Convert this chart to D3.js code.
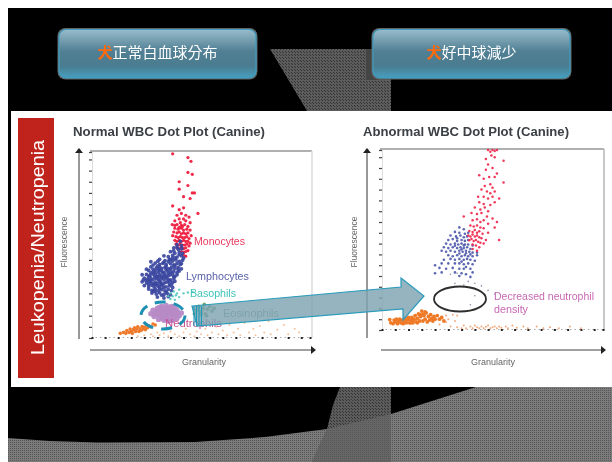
<!DOCTYPE html>
<html><head><meta charset="utf-8">
<script src="https://cdn.jsdelivr.net/npm/d3@7/dist/d3.min.js"></script>
<style>html,body{margin:0;padding:0;background:#fff}svg{display:block}</style></head>
<body><svg id="c" width="612" height="462"></svg>
<script>
const buttonLabels=[["犬","正常白血球分布"],["犬","好中球減少"]];
const sideLabel="Leukopenia/Neutropenia";
const titles=["Normal WBC Dot Plot (Canine)","Abnormal WBC Dot Plot (Canine)"];
const axisLabels=["Granularity","Fluorescence"];
const tickValues=[0,6,12,18,24,30,36,42,48,54,60,66,72,78,84,90,96,100];

const monoL=[[37,99],[44,97],[45.4,95],[44,89],[46,88],[40,84],[40,80],[44,82],[46,78],[47,78],[42,76],[45,75],[37,71],[40,69],[42,70],[48.6,67],
[39,66],[41,67],[43,66],[40,64],[42,64],[44.5,65],[38,63],[40.5,62],[43,63],[45,62],[39,61],[41,60.5],[42.5,61],[44,60],[38,59],[39.5,58.5],[41,59],[42,58],[43.5,58.5],[45,58],[37.5,57],[39,56.5],[40,57],[41,56],[42,56.5],[43,56],[44,56.5],[45.5,55],[37,55],[38.5,54.5],[39.5,54],[40.5,54.5],[41.5,54],[42.5,54],[43.5,54.5],[44.5,53.5],[38,52.5],[39,52],[40,52.5],[41,52],[42,52.5],[43,52],[44,52],[45,51],[38.5,50.5],[39.5,50],[40.5,50.5],[41.5,50],[42.5,50],[43.5,50.5],[44.5,49.5],[39,48.5],[40,48],[41,48.5],[42,48],[43,48.5],[41,46.5],[42,46],[43,46.5],[44,47],[42,44.5],[43,44],[41.5,60],[40,59.5],[38,60.5],[36.8,61]];
const lymphL=[[40.5,52],[39,50.2],[41,49.6],[37.5,48.4],[39.6,47.7],[41.2,48],[36,46.4],[38,45.6],[40,46.2],[41.5,45.5],[33,44.2],[35,43.7],[37,44.4],[39,43.5],[41,44.2],[42,43],
[31,42.3],[33.5,41.6],[35.5,42.2],[37,41.4],[38.5,42],[40,41.2],[41.5,41.8],[29,40.3],[31,39.6],[32.5,40.2],[34,39.4],[36,40],[37.5,39.3],[39,40.1],[40.5,39.5],
[27,38.2],[29.5,37.6],[31,38.3],[32,37.4],[33.5,38],[35,37.3],[36.5,38.1],[38,37.5],[39.5,38],[41,37.2],[26,36.3],[28,35.6],[29,36.2],[30.5,35.4],[32,36],[33,35.3],[34.5,36.1],[36,35.5],[37.5,36],[39,35.2],[40,36],
[25,34.2],[26.5,33.6],[28,34.3],[29.5,33.4],[31,34],[32,33.3],[33.5,34.1],[35,33.5],[36,34],[37.5,33.2],[39,34],[24,32.2],[25.5,31.6],[27,32.3],[28,31.4],[29.5,32],[30.5,31.3],[32,32.1],[33,31.5],[34.5,32],[36,31.2],[37.5,32],
[23,30.2],[25,29.6],[26.5,30.3],[27.5,29.4],[29,30],[30,29.3],[31.5,30.1],[33,29.5],[34,30],[35.5,29.2],[37,30],[24,28.2],[26,27.6],[27.5,28.3],[28.5,27.4],[30,28],[31,27.3],[32.5,28.1],[34,27.5],[35.5,28],[37,27.2],
[26,26.3],[27.5,25.6],[29,26.2],[30.5,25.4],[32,26],[33.5,25.3],[35,26.1],[36.5,25.5],[27.5,24.2],[29.5,23.6],[31,24.3],[33,23.4],[34.5,24],[36,23.3],[30,22],[33,21.5],[35,22.2],[23,34],[27,41],[25,37],
[30.5,37],[32.5,35],[30,33],[33,33],[35.5,31],[31,30.7],[28.5,29],[33,27],[29,34.8],[34,38.7],[36.8,42.8],[35,35],[31.5,28.8],[27,30.8],[38,33],[36,37],
[28,39.2],[30,38.6],[33,40.8],[35,41],[38,43],[40,44.8],[37.5,46.8],[39,48.8],[31,36.5],[34,36.9],[37,34.7],[27,35],[26,32.9],[28.8,32.8],[31,32.7],[34,32.8],[26,31],[23.5,31.2],[26,28.9],[29,28.8],[32,29],[35,30.6],[36.5,28.7],[38,30.5],[28,25.2],[31,26.8],[34,24.8],[36,42],[38,39],[41,40],[39.5,36.8],[28,37],[24.8,30.9],[32,23],[29,25],[30.2,41.3]];
const basoL=[[36,24],[37.5,25],[39,24],[40,26],[37,22.5],[38.5,23],[40,22],[36,21],[38,20.5],[35,22.5],[42,24],[44,24.5],[46,24.8]];
const neutL=[[27,13],[28,15],[28.5,11.5],[29.5,14],[30,16],[30,12.5],[30.5,10],[31,14.5],[31.5,12],[32,17],[32,15],[32.5,13],[32.5,10.5],[33,16],[33,9.5],[33.5,14],[34,12],[34,17.5],[34.5,15.5],[34.5,10],[35,13.5],[35.5,16.5],[35.5,11.5],[36,14.5],[36,9.5],[36.5,17],[37,12.5],[37,15.5],[37.5,10.5],[38,14],[38,16.5],[38.5,12],[39,15],[39,10.5],[39.5,13.5],[40,12],[29,13],[31,16.5],[33.5,11],[35,9],[37,9.5],[36.5,13],[34,14],[32,11.5],[30.5,14.8],[41,13.5]];
const orangeL=[[13,2.5],[14.5,3],[15.5,2.5],[16,4],[17,3],[17.5,4.8],[18,3.5],[18.5,2.5],[19,4.5],[19.5,5.5],[20,3.5],[20.5,4.8],[21,6],[21.5,3.5],[22,5],[22.5,4],[23,6.2],[23.5,4.8],[24,5.8],[24.5,4.5],[25,7],[25.5,5.5],[26,6.5],[27,6],[28,7.5],[29,7]];
const scatterL=[[21,1],[24,1.5],[27,2],[28,1],[30,3],[31,1.5],[33,2.5],[35,1],[36,3.5],[38,2],[40,1],[42,3],[43,5],[45,2],[47,1],[48,3.5],[50,2],[52,5],[53,1.5],[55,3],[57,6],[58,2],[60,4],[62,1.5],[63,7],[65,3],[67,5],[68,1.5],[70,8],[72,3],[74,5],[75,1.5],[77,6.5],[79,3],[81,9],[82,2],[85,4.5],[88,7],[90,2],[93,5],[95,3]];
const eosL=[[47,13],[48,15],[49,17],[50,14],[51,16],[51.5,18],[52,13],[53,15.5],[54,17],[55,14.5],[52.5,12],[50,12.5],[56,16]];

const monoR=[[48,100],[49,99],[50,100],[51,99.5],[52,100],[49.5,97],[47,95],[51,96],[55,94],[50,90],[47,89],[48,92],[52,87],[44,86],[46,84],[48.5,85],[51,85],[55,82],[49,81],[46.5,80],[50,79],[45,78],[47.5,77],[49,76],[51,77],[43.5,74],[46,74],[48,73],[50,74],[53,73],[44,71],[46,70],[49,69.5],[51,71],[42,68],[44.5,67],[46.5,68],[48,66],[40.5,65],[43,64.5],[45,65],[47.5,63],[50,62],[41,61],[43,61.5],[44.5,60],[46,61],[48,59],[40,58],[41.5,57.5],[43,58],[44.5,57],[46,56.5],[51,57],[39.5,55],[41,54.5],[42,55.5],[43,54],[44,54.8],[45.5,53.5],[48,54],[39,52.5],[40,52],[41,53],[42,52],[43,52.5],[44,51.5],[45,51],[47,50],[39.5,49.8],[40.5,50.5],[41.5,49.5],[42.5,50],[43.5,49],[44.5,48.5],[46,48],[41,47.5],[42.5,47],[44,46],[41,45],[43,44],[53,50],[52,60],[37,63]];
const lymphR=[[35,57],[37,56],[33,54.5],[35,54],[37.5,53.5],[39,54],[31,52.5],[33.5,52],[35.5,52.5],[37,51.5],[38.5,52],[30,50],[32,50.5],[34,49.5],[36,50],[37.5,49.5],[39,50],[29,48],[31,47.5],[33,48],[34.5,47.5],[36,48],[37.5,47.5],[39,47.5],[41,47],[28,46],[30,45.5],[32,46],[34,45.5],[35.5,46],[37,45.5],[38.5,46],[40,45],[27,44],[29,43.5],[31,44],[33,43.5],[35,44],[36.5,43.5],[38,44],[39.5,43.5],[41,43],[43,43],[30,41.5],[32,41],[34,41.5],[36,41],[37.5,41.5],[39,41],[41,41],[43,41.5],[28,39],[31,39.5],[33,39],[35,39.5],[37,39],[38.5,39.5],[40,39],[42,38.5],[24,36],[27,37],[30,37],[33,37],[35,37],[37,36.5],[39,37],[41,36.5],[26,34.5],[29,34],[32,34.5],[35,34],[37,34],[40,34],[24,31.5],[27,32],[33,32],[36,31.5],[38,31],[41,32],[35,30],[40,29.5],[33,46.8],[36,44.8],[38,42.6],[35,42.5],[37,47],[34,51],[40,42],[38,35],[36,38]];
const orangeR=[[5,3.5],[5.5,5.5],[6,4.5],[6.5,6],[7,3.5],[7.5,5],[8,6],[8.5,4],[9,5.5],[9.5,3.5],[10,5],[10.5,6.5],[11,4],[11.5,5.5],[12,7],[12.5,4],[13,5.5],[13.5,7],[14,4],[14.5,6],[15,8],[15.5,4.5],[16,6.5],[16.5,9],[17,5],[17.5,7.5],[18,10.5],[18.5,5],[19,8],[19.5,6],[20,9.5],[20.5,4.5],[21,7.5],[21.5,5.5],[22,8.5],[22.5,6.5],[23,5],[23.5,7.5],[24,6],[25,8],[26,6],[27,7],[28,5],[4,4],[3.5,5.8],[14,5],[17,8.5],[18.5,8.8],[19.5,10],[16,4],[13,4],[10,4]];
const scatterR=[[26,3],[29,4.5],[30,6],[31,2],[33,5],[34,1.5],[36,1],[37,2.5],[38,1],[40,2],[41,1],[42,2.5],[43,1.5],[44,1],[45,2],[46,1],[47,1.8],[48,2.5],[49,1],[50,1.5],[51,2],[52,1],[53,2],[54,1.2],[56,2],[57,1],[59,2.5],[61,1.2],[64,2],[66,1],[70,2],[73,1],[76,1.5],[80,1],[85,2],[90,1],[34,8],[32,8.5],[29,8]];
const strayR=[[31,31],[34,31.5],[39,27],[37,25],[42,26],[33,26],[45,24.5],[48,22],[42,19],[40,14],[51,20]];

const labelsL=[["Monocytes","#e9395c",194,245,51],["Lymphocytes","#5a63aa",186,280,63],["Basophils","#3cc4b6",190,297,46],["Neutrophils","#c94f8f",165,327,57],["Eosinophils","#7c9a78",223,317,56]];
const labelsR=[["Decreased neutrophil","#c868b4",494,300,100],["density","#c868b4",494,313,34]];

const svg=d3.select("#c");
const defs=svg.append("defs");
function pat(id,bg,fg,size,cells){
  const p=defs.append("pattern").attr("id",id).attr("patternUnits","userSpaceOnUse").attr("width",size).attr("height",size);
  p.append("rect").attr("width",size).attr("height",size).attr("fill",bg);
  cells.forEach(c=>p.append("rect").attr("x",c[0]).attr("y",c[1]).attr("width",c[2]).attr("height",c[3]).attr("fill",fg));
}
pat("pA","#7b7b7b","#555",4,[[0,0,1,1],[2,0,1,1],[0,2,1,1],[2,2,1,1]]);
pat("pB","#5c5c5c","#333",3,[[0,0,1,1],[1,1,1,1]]);
pat("pC","#666","#585858",2,[[0,0,1,1]]);
defs.append("filter").attr("id","soft").attr("x","-5%").attr("y","-5%").attr("width","110%").attr("height","110%")
  .append("feGaussianBlur").attr("stdDeviation",0.55);
defs.append("filter").attr("id","softer").attr("x","-5%").attr("y","-5%").attr("width","110%").attr("height","110%")
  .append("feGaussianBlur").attr("stdDeviation",0.3);
const g=defs.append("linearGradient").attr("id","btn").attr("x1",0).attr("x2",0).attr("y1",0).attr("y2",1);
[[0,"#98bccb"],[0.45,"#517f93"],[0.75,"#4b7c90"],[1,"#469fc0"]].forEach(s=>g.append("stop").attr("offset",s[0]).attr("stop-color",s[1]));

const line=d3.line();
const trap=[[270,49],[391,49],[391,462],[312,462],[327,429],[333,405],[340,387],[307,111]];
const low=[[8,438],[50,441],[98,442.5],[195,442],[265,437],[327,429],[391,414],[476,387],[612,387],[612,462],[8,462]];
defs.append("clipPath").attr("id","trapClip").append("path").attr("d",line(trap)+"Z");

svg.append("rect").attr("x",8).attr("y",8).attr("width",604).attr("height",454).attr("fill","#000");
svg.append("path").attr("d",line(low)+"Z").attr("fill","url(#pA)");
svg.append("path").attr("d",line(trap)+"Z").attr("fill","url(#pB)");
svg.append("path").attr("d",line(low)+"Z").attr("fill","url(#pC)").attr("clip-path","url(#trapClip)");
svg.append("rect").attr("x",366).attr("y",49).attr("width",25).attr("height",31).attr("fill","#444");

// buttons
const btnG=svg.append("g").attr("filter","url(#softer)");
[[59,197],[373,197]].forEach((b,i)=>{
  btnG.append("rect").attr("x",b[0]-1.5).attr("y",28).attr("width",b[1]+3).attr("height",51.5).attr("rx",8).attr("fill","#666");
  btnG.append("rect").attr("x",b[0]).attr("y",29.5).attr("width",b[1]).attr("height",48.5).attr("rx",7).attr("fill","url(#btn)").attr("stroke","#3a9dc2").attr("stroke-width",1.2);
  const t=btnG.append("text").attr("x",b[0]+b[1]/2).attr("y",58).attr("text-anchor","middle")
    .attr("font-family","'Noto Sans CJK TC'").attr("font-size",15).attr("fill","#fff");
  t.append("tspan").attr("fill","#ff6a0a").attr("font-weight","bold").text(buttonLabels[i][0]);
  t.append("tspan").text(buttonLabels[i][1]);
});

// white panel
svg.append("rect").attr("x",11).attr("y",111).attr("width",601).attr("height",276).attr("fill","#fff");
const pn=svg.append("g").attr("filter","url(#soft)");
pn.append("rect").attr("x",18).attr("y",118).attr("width",36).attr("height",260).attr("fill","#c0241c");
pn.append("text").attr("transform","translate(43.5,355) rotate(-90)").attr("font-family","'Liberation Sans'").attr("font-size",19)
  .attr("fill","#fff").attr("textLength",215).attr("lengthAdjust","spacingAndGlyphs").text(sideLabel);

const panels=[
 {x0:92,x1:310,y0:338,y1:152,axX:79,axTop:148,axBot:339,xAxY:350,xAxL:90,xAxR:315,frameR:312,frameT:151,title:73,titleW:192,ylab:67,xlab:204,rightStroke:"#ddd",sets:[[scatterL,"#f3b183",1,.8],[orangeL,"#ef7b2d",1.8,1],[monoL,"#ee1c3e",1.6,.95],[lymphL,"#3b479f",1.9,.92],[basoL,"#4cc8bc",1.2,.9],[neutL,"#b78ac6",2.7,.95],[eosL,"#6fa36a",1.9,.95]]},
 {x0:382,x1:603,y0:330,y1:150,axX:367,axTop:148,axBot:338,xAxY:350,xAxL:381,xAxR:605,frameR:604,frameT:149,title:363,titleW:206,ylab:357,xlab:493,rightStroke:"#bbb",sets:[[scatterR,"#f0a070",1,.9],[orangeR,"#ef7a28",1.9,1],[strayR,"#6a6f90",.8,.8],[lymphR,"#4a55a8",1.3,.9],[monoR,"#ee2248",1.25,.9]]}
];
panels.forEach((p,i)=>{
  const x=d3.scaleLinear().domain([0,100]).range([p.x0,p.x1]);
  const y=d3.scaleLinear().domain([0,100]).range([p.y0,p.y1]);
  pn.append("text").attr("x",p.title).attr("y",136).attr("font-family","'Liberation Sans'").attr("font-weight","bold").attr("font-size",12.5)
    .attr("fill","#3a3f45").attr("textLength",p.titleW).attr("lengthAdjust","spacingAndGlyphs").text(titles[i]);
  pn.append("path").attr("d",`M${p.x0-2},${p.frameT}H${p.frameR}`).attr("fill","none").attr("stroke","#b0b0b0").attr("stroke-width",2);
  pn.append("path").attr("d",`M${p.frameR},${p.frameT}V${p.y0}`).attr("fill","none").attr("stroke",p.rightStroke).attr("stroke-width",1.6);
  const ay=d3.axisLeft(y).tickValues(tickValues).tickSize(3).tickFormat("");
  const ag=pn.append("g").attr("transform",`translate(${p.x0},0)`).call(ay);
  ag.select(".domain").attr("stroke","#ddd");ag.selectAll("line").attr("stroke","#444").attr("stroke-width",1.2);
  const ax=d3.axisBottom(x).tickValues(tickValues).tickSize(2).tickFormat("");
  const bg=pn.append("g").attr("transform",`translate(0,${p.y0-1})`).call(ax);
  bg.select(".domain").attr("stroke","#aaa").attr("stroke-dasharray","1.5 3");bg.selectAll("line").attr("stroke","#222").attr("stroke-width",2);
  p.sets.forEach(s=>{
    pn.append("g").selectAll("circle").data(s[0]).join("circle")
      .attr("cx",d=>x(d[0])).attr("cy",d=>y(d[1])).attr("r",s[2]).attr("fill",s[1]).attr("opacity",s[3]);
  });
  pn.append("path").attr("d",`M${p.axX},${p.axBot}V${p.axTop+4}`).attr("stroke","#555").attr("stroke-width",1.2);
  pn.append("path").attr("d",`M${p.axX-4},${p.axTop+5}L${p.axX},${p.axTop}L${p.axX+4},${p.axTop+5}Z`).attr("fill","#222");
  pn.append("path").attr("d",`M${p.xAxL},${p.xAxY}H${p.xAxR-3}`).attr("stroke","#444").attr("stroke-width",1.2);
  pn.append("path").attr("d",`M${p.xAxR-4},${p.xAxY-4}L${p.xAxR+1},${p.xAxY}L${p.xAxR-4},${p.xAxY+4}Z`).attr("fill","#222");
  pn.append("text").attr("x",p.xlab).attr("y",365).attr("text-anchor","middle").attr("font-family","'Liberation Sans'").attr("font-size",9).attr("fill","#666").text(axisLabels[0]);
  pn.append("text").attr("transform",`translate(${p.ylab},242) rotate(-90)`).attr("text-anchor","middle").attr("font-family","'Liberation Sans'").attr("font-size",8.5).attr("fill","#666").text(axisLabels[1]);
});
[labelsL,labelsR].forEach(ls=>ls.forEach(l=>{
  pn.append("text").attr("x",l[2]).attr("y",l[3]).attr("font-family","'Liberation Sans'").attr("font-size",10.5).attr("fill",l[1])
    .attr("textLength",l[4]).attr("lengthAdjust","spacingAndGlyphs").text(l[0]);
}));
pn.append("ellipse").attr("cx",163).attr("cy",315.5).attr("rx",22).attr("ry",13.5).attr("fill","none").attr("stroke","#1f8fb2").attr("stroke-width",3).attr("stroke-dasharray","11 8");
pn.append("ellipse").attr("cx",460).attr("cy",299).attr("rx",26).attr("ry",12.5).attr("fill","none").attr("stroke","#2d2d2d").attr("stroke-width",1.8);
const arrowPts=[[192,306],[401,287],[401,278],[424,296],[403,320],[403,309],[197,326]];
pn.append("path").attr("d",line(arrowPts)+"Z").attr("fill","#7ea4b2").attr("fill-opacity",.82).attr("stroke","#2b9cba").attr("stroke-width",1.2);
d3.range(194,203,2.5).forEach(v=>pn.append("path").attr("d",`M${v},306V326`).attr("stroke","#1e9cb8").attr("stroke-width",1.1));
</script></body></html>
